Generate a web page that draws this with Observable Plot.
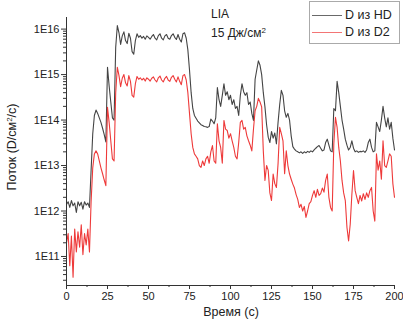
<!DOCTYPE html>
<html>
<head>
<meta charset="utf-8">
<script src="https://cdn.jsdelivr.net/npm/d3@7"></script>
<script src="https://cdn.jsdelivr.net/npm/@observablehq/plot@0.6"></script>
<style>
  body { margin: 0; background: #fff; }
  #wrap { position: relative; width: 403px; height: 330px; font-family: "Liberation Sans", Arial, sans-serif; color: #222; }
  .t { position: absolute; font-size: 12px; white-space: nowrap; line-height: 1; }
  sup { font-size: 8px; vertical-align: 4px; line-height: 0; }
</style>
</head>
<body>
<div id="wrap"></div>
<script>
// time grid (seconds)
const timeSec = d3.range(0, 201, 1);

// D из HD  (flux, D/cm^2/s)
const fluxHD = [
  1.4e12,1.6e12,1.2e12,1.7e12,1.3e12,1.5e12,9.3e11,1.6e12,1.3e12,1.55e12,
  1.1e12,1.6e12,1.35e12,1.5e12,1.2e12,7.9e12,5e13,1.26e14,1.66e14,1.4e14,
  1.12e14,8.9e13,6.6e13,4.8e13,3.3e13,1.45e15,5.6e14,2.5e14,1.12e14,1e14,
  4e15,1.2e16,8.3e15,4.6e15,7.1e15,8.7e15,5.6e15,4.8e15,8.1e15,6.3e15,
  3.2e15,2.8e15,5.6e15,7.9e15,6.6e15,7.2e15,6.3e15,6.9e15,6e15,7.1e15,
  6.6e15,6e15,6.9e15,7.6e15,6.3e15,5.8e15,7.2e15,7.9e15,6.3e15,5.8e15,
  7.1e15,7.6e15,6.3e15,6e15,7.2e15,7.9e15,6.6e15,5.9e15,7.6e15,6e15,
  5.2e15,7.9e15,8.3e15,6.3e15,3.5e15,1.26e15,4e14,1.8e14,1.26e14,1.1e14,
  9.5e13,8.7e13,7.9e13,7.6e13,7.2e13,7.1e13,6.9e13,7.2e13,1.05e14,9.5e13,
  8.3e13,1.12e14,5.2e14,2.8e14,2e14,3.5e14,6.3e14,3.5e14,4.2e14,2.8e14,
  3.5e14,2.2e14,2.8e14,1.8e14,2e14,1.26e14,3.5e14,6.3e14,4.2e14,3.5e14,
  4e14,2.2e14,2.5e14,1.4e14,9.8e13,7.9e14,1.26e15,2e15,1.6e15,1e15,
  4e14,1.95e14,7.9e13,4.2e13,3.2e13,5.6e13,4e13,5.2e13,3e13,8.9e13,
  2.2e14,4.5e14,3.5e14,1.6e14,1.15e14,1.4e14,1e14,4.5e13,2.6e13,2.3e13,
  2.1e13,2e13,1.9e13,2e13,1.85e13,2e13,1.9e13,2.05e13,1.95e13,2.1e13,
  2e13,2.2e13,2.4e13,2.6e13,2.75e13,2.4e13,2.1e13,2.2e13,3.2e13,3.8e13,
  2.8e13,2.1e13,2e13,1.8e14,1.6e14,7.1e14,4e14,2e14,1e14,6.3e13,
  3.8e13,2.8e13,2.2e13,2.5e13,3.5e13,2.4e13,2e13,2.1e13,1.95e13,2.05e13,
  2e13,2.1e13,1.95e13,2.2e13,3.2e13,3.8e13,2.5e13,2e13,2.1e13,8.9e13,
  7.1e13,5.6e13,1e14,2e14,1.12e14,7.1e13,1.12e14,6.3e13,8.9e13,4e13,
  2.2e13
];

// D из D2
const fluxD2 = [
  2e11,3.2e11,6.3e10,2.8e11,3.5e10,4e11,1.26e11,3.5e11,1.6e11,5e11,
  1.1e11,3.2e11,1.8e11,4e11,1.26e11,1.6e12,8.9e12,1.8e13,2.1e13,1.8e13,
  1.26e13,8.9e12,6.6e12,4.8e12,3.6e12,1.9e14,8.9e13,3.5e13,1.4e13,1.26e13,
  4e14,1.45e15,9.5e14,5.4e14,8.3e14,1e15,6.6e14,5.6e14,9.5e14,7.1e14,
  3.5e14,3.2e14,6.3e14,9.1e14,7.9e14,8.5e14,7.6e14,8.3e14,7.2e14,8.5e14,
  7.9e14,7.2e14,8.3e14,8.9e14,7.6e14,6.9e14,8.5e14,9.3e14,7.6e14,6.9e14,
  8.3e14,9.1e14,7.6e14,7.1e14,8.7e14,9.5e14,7.9e14,6.9e14,8.9e14,7.1e14,
  6e14,9.5e14,1e15,7.6e14,4e14,1.4e14,5e13,2.5e13,1.8e13,1.6e13,
  1.4e13,1e13,9.1e12,1.26e13,1e13,1.4e13,1.6e13,1.12e13,2e13,2.75e13,
  1.26e13,1.12e13,8.3e13,3.5e13,2.5e13,1.12e13,9.8e13,6.3e13,5.9e13,4e13,
  5e13,3.5e13,2.5e13,1.6e13,1.4e13,3.2e13,8.9e13,9.8e13,6.3e13,6.9e13,
  4.5e13,3.5e13,2.8e13,2.1e13,6.3e13,1.6e14,2e14,3e14,2.5e14,1.95e14,
  2.1e13,4.7e12,1e13,7.8e12,2.5e12,1.7e12,6.5e12,4e12,3.3e12,1.1e13,
  6.9e13,5e13,3.5e13,6.6e12,2.1e13,1e13,6.5e12,5e12,3.9e12,3.2e12,
  2.3e12,1.8e12,1.2e12,1.4e12,1e12,1.26e12,7.2e11,1e12,1.45e12,1.6e12,
  2.2e12,2.8e12,2e12,3e12,2.2e12,2.4e12,3.2e12,2.6e12,4.7e12,6.5e12,
  2e12,1.2e12,1e12,3e13,1.15e14,6.9e13,2.5e13,1.26e13,4.7e12,2.5e12,
  1.7e12,4.4e11,2.2e11,5.1e11,2.3e12,7.8e12,2.8e12,2e12,1.45e12,2.2e12,
  1.66e12,2.4e12,1.8e12,2.5e12,2e12,2.8e12,3.3e12,1e12,6e11,1.8e13,
  7.9e12,1.26e13,5e12,3.5e13,1e13,9.1e12,1.26e13,1.8e13,1.6e13,4e12,
  2e12
];

const xTicks = [0, 25, 50, 75, 100, 125, 150, 175, 200];
const xMinorTicks = [12.5, 37.5, 62.5, 87.5, 112.5, 137.5, 162.5, 187.5];
const yTicks = [1e11, 1e12, 1e13, 1e14, 1e15, 1e16];
const yTickLabels = ["1E11", "1E12", "1E13", "1E14", "1E15", "1E16"];
const yDomain = [2.3e10, 1.8e16];
const seriesNames = ["D из HD", "D из D2"];
const seriesColors = ["#444444", "#ee3a3a"];

const yMinorTicks = [];
for (let k = 10; k <= 16; k++) for (let m = 2; m <= 9; m++) {
  const v = m * Math.pow(10, k);
  if (v >= yDomain[0] && v <= yDomain[1]) yMinorTicks.push(v);
}

function yLabel(d) {
  let best = 0, bestDiff = Infinity;
  yTicks.forEach((v, i) => { const df = Math.abs(Math.log10(v) - Math.log10(d)); if (df < bestDiff) { bestDiff = df; best = i; } });
  return yTickLabels[best];
}

const rows = timeSec.map((t, i) => ({ t, hd: fluxHD[i], d2: fluxD2[i] }));

const chart = Plot.plot({
  width: 403, height: 330,
  marginLeft: 66, marginRight: 9, marginTop: 17, marginBottom: 45,
  style: { fontFamily: "'Liberation Sans', Arial, sans-serif", fontSize: "11px", color: "#222", background: "transparent" },
  x: { domain: [0, 200], label: null },
  y: { type: "log", domain: yDomain, label: null },
  marks: [
    Plot.lineY(rows, { x: "t", y: "hd", stroke: seriesColors[0], strokeWidth: 1.1 }),
    Plot.lineY(rows, { x: "t", y: "d2", stroke: seriesColors[1], strokeWidth: 1.1 }),
    Plot.ruleX([0], { stroke: "#333", strokeWidth: 1 }),
    Plot.ruleY([yDomain[0]], { stroke: "#333", strokeWidth: 1 }),
    Plot.axisX({ ticks: xTicks, tickSize: 4, tickPadding: 3, tickFormat: d => String(d), label: null, stroke: "#333" }),
    Plot.axisX({ ticks: xMinorTicks, tickSize: 2, tickFormat: () => "", label: null, stroke: "#333" }),
    Plot.axisY({ ticks: yMinorTicks, tickSize: 3, tickFormat: () => "", label: null, stroke: "#333" }),
    Plot.axisY({ ticks: yTicks, tickSize: 5, tickPadding: 2, tickFormat: yLabel, label: null, stroke: "#333" })
  ]
});

const wrap = document.getElementById("wrap");
wrap.appendChild(chart);
chart.style.position = "absolute";
chart.style.left = "0px";
chart.style.top = "0px";

function addText(html, css) {
  const d = document.createElement("div");
  d.className = "t";
  d.innerHTML = html;
  Object.assign(d.style, css);
  wrap.appendChild(d);
  return d;
}

// axis titles
addText("Время (с)", { left: "231px", top: "306px", transform: "translateX(-50%)", fontSize: "12.5px" });
addText("Поток (D/см<sup>2</sup>/с)", { left: "12px", top: "147px", transform: "translate(-50%,-50%) rotate(-90deg)", fontSize: "12.5px" });

// annotation
addText("LIA", { left: "211px", top: "8px" });
addText("15 Дж/см<sup>2</sup>", { left: "211px", top: "27px" });

// legend
const box = document.createElement("div");
Object.assign(box.style, { position: "absolute", left: "309px", top: "1px", width: "89px", height: "41px", border: "1px solid #aaa", background: "#fff" });
wrap.appendChild(box);
seriesNames.forEach((name, i) => {
  const y = 15 + i * 17;
  const ln = document.createElement("div");
  Object.assign(ln.style, { position: "absolute", left: "312px", top: y + "px", width: "30px", height: "1px", background: seriesColors[i], opacity: i === 1 ? 0.7 : 0.8 });
  wrap.appendChild(ln);
  addText(name, { left: "345px", top: (y - 6) + "px", fontSize: "12.5px" });
});
</script>
</body>
</html>
